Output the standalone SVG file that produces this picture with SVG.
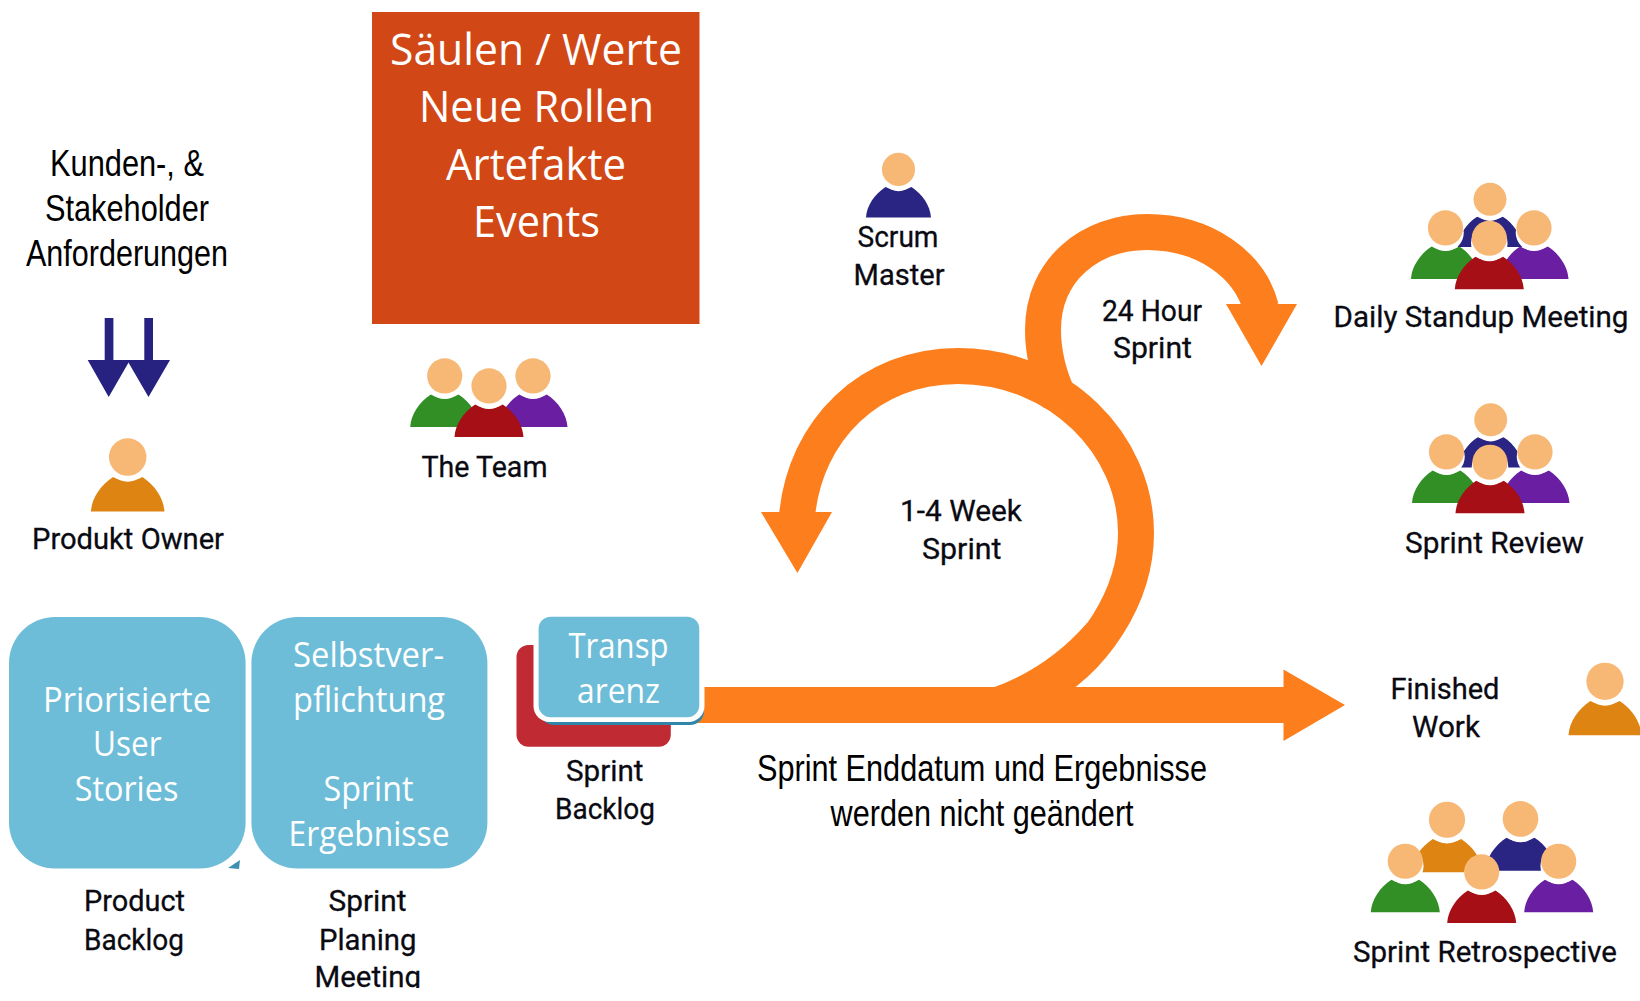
<svg xmlns="http://www.w3.org/2000/svg" width="1640" height="1001" viewBox="0 0 1640 1001">
<style>
.l{font-family:Roboto,"Liberation Sans",sans-serif;font-size:30px;fill:#0a0a12;font-weight:400;stroke:#0a0a12;stroke-width:.3px}
.w{font-family:"Open Sans","Liberation Sans",sans-serif;font-size:35px;fill:#fff}
.t{font-family:"Open Sans","Liberation Sans",sans-serif;font-size:43px;fill:#fff}
.n{font-family:"Liberation Sans Narrow","Liberation Sans",sans-serif;font-size:37px;fill:#000}
.box{fill:#6ebdd8}
.o{fill:none;stroke:#fd7e1c;stroke-width:36}
.of{fill:#fd7e1c}
.navy{fill:#27217f}
.head{fill:#f7b876}.halo{fill:#fff}
</style>
<defs>
<g id="p">
<path d="M-50,0C-49,-18-37,-36-20,-47Q0,-36 20,-47C37,-36 49,-18 50,0Z"/>
<circle class="halo" cy="-67" r="26.5"/>
<circle class="head" cy="-74" r="25.5"/>
</g>
<clipPath id="clip"><rect x="0" y="0" width="1640" height="988"/></clipPath>
</defs>
<rect width="1640" height="1001" fill="#fff"/>
<g id="connectors">
<path class="o" d="M797,516C805,430 870,366 958,366C1060,366 1136,445 1136,533C1136,595 1095,662 1034,692"/>
<path class="of" d="M1087,623Q1048,668 992,688L1040,705L1095,640Z"/>
<path class="o" d="M1060,400C1048,375 1043,350 1043,330C1043,270 1090,232 1147,232C1205,232 1250,265 1261,308"/>
<polygon class="of" points="761,512 832,512 797.4,573"/>
<polygon class="of" points="1226,304 1297,304 1261.5,366"/>
<polygon class="of" points="690,687 1283.5,687 1283.5,669.5 1345,705 1283.5,741 1283.5,723 690,723"/>
<g id="down-arrows" class="navy">
<polygon points="104.7,318 113.4,318 113.4,360 130,360 108.7,397 87.7,360 104.7,360"/>
<polygon points="144.3,318 153,318 153,360 170,360 148.5,397 127,360 144.3,360"/>
</g>
</g>
<g id="pillars"><rect x="372" y="12" width="327.5" height="312" fill="#d14816"/>
<text class="t" x="390" y="64.5" textLength="292" lengthAdjust="spacingAndGlyphs">Säulen / Werte</text>
<text class="t" x="419" y="121.5" textLength="235" lengthAdjust="spacingAndGlyphs">Neue Rollen</text>
<text class="t" x="446" y="179.5" textLength="180" lengthAdjust="spacingAndGlyphs">Artefakte</text>
<text class="t" x="473" y="236.5" textLength="127" lengthAdjust="spacingAndGlyphs">Events</text></g>
<g id="requirements">
<text class="n" x="50" y="176" textLength="154" lengthAdjust="spacingAndGlyphs">Kunden-, &amp;</text>
<text class="n" x="45" y="221" textLength="164" lengthAdjust="spacingAndGlyphs">Stakeholder</text>
<text class="n" x="26" y="266" textLength="202" lengthAdjust="spacingAndGlyphs">Anforderungen</text></g>
<g id="product-owner"><use href="#p" transform="translate(127.7,511.5) scale(.735)" fill="#dd8412"/>
<text class="l" x="32" y="549.3" textLength="192" lengthAdjust="spacingAndGlyphs">Produkt Owner</text></g>
<g id="team">
<use href="#p" transform="translate(444.7,427) scale(.69)" fill="#318f26"/>
<use href="#p" transform="translate(533,427) scale(.69)" fill="#6a1fa2"/>
<use href="#p" transform="translate(489,437) scale(.69)" fill="#a70f16"/>
<text class="l" x="421.5" y="476.7" textLength="126" lengthAdjust="spacingAndGlyphs">The Team</text></g>
<g id="scrum-master"><use href="#p" transform="translate(898.5,217.5) scale(.65)" fill="#2a2483"/>
<text class="l" x="857.5" y="246.7" textLength="81" lengthAdjust="spacingAndGlyphs">Scrum</text>
<text class="l" x="853.5" y="285" textLength="91" lengthAdjust="spacingAndGlyphs">Master</text></g>
<g id="sprint-24h"><text class="l" x="1102" y="320.5" textLength="100" lengthAdjust="spacingAndGlyphs">24 Hour</text>
<text class="l" x="1113" y="357.7" textLength="79" lengthAdjust="spacingAndGlyphs">Sprint</text></g>
<g id="sprint-week"><text class="l" x="900" y="521" textLength="122" lengthAdjust="spacingAndGlyphs">1-4 Week</text>
<text class="l" x="922" y="558.5" textLength="79.5" lengthAdjust="spacingAndGlyphs">Sprint</text></g>
<g id="daily">
<use href="#p" transform="translate(1490,247) scale(.645)" fill="#2a2483"/>
<use href="#p" transform="translate(1445.5,279) scale(.69)" fill="#318f26"/>
<use href="#p" transform="translate(1534,279) scale(.69)" fill="#6a1fa2"/>
<use href="#p" transform="translate(1489.3,289.3) scale(.69)" fill="#a70f16"/>
<text class="l" x="1333.5" y="326.7" textLength="295" lengthAdjust="spacingAndGlyphs">Daily Standup Meeting</text></g>
<g id="review">
<use href="#p" transform="translate(1490.7,467.5) scale(.645)" fill="#2a2483"/>
<use href="#p" transform="translate(1446.5,503) scale(.69)" fill="#318f26"/>
<use href="#p" transform="translate(1535,503) scale(.69)" fill="#6a1fa2"/>
<use href="#p" transform="translate(1490,513.3) scale(.69)" fill="#a70f16"/>
<text class="l" x="1405" y="552.5" textLength="179" lengthAdjust="spacingAndGlyphs">Sprint Review</text></g>
<g id="finished">
<text class="l" x="1390.5" y="699" textLength="109" lengthAdjust="spacingAndGlyphs">Finished</text>
<text class="l" x="1412" y="736.7" textLength="68" lengthAdjust="spacingAndGlyphs">Work</text>
<use href="#p" transform="translate(1605,735.3) scale(.73)" fill="#dd8412"/></g>
<g id="retro">
<use href="#p" transform="translate(1447,872.3) scale(.71)" fill="#dd8412"/>
<use href="#p" transform="translate(1520.5,870.7) scale(.7)" fill="#2a2483"/>
<use href="#p" transform="translate(1405.3,912.3) scale(.69)" fill="#318f26"/>
<use href="#p" transform="translate(1481.7,923) scale(.69)" fill="#a70f16"/>
<use href="#p" transform="translate(1558.7,912.3) scale(.69)" fill="#6a1fa2"/>
<text class="l" x="1353" y="962.3" textLength="264" lengthAdjust="spacingAndGlyphs">Sprint Retrospective</text></g>
<g id="product-backlog">
<path d="M228,868L240,860L239,869Z" fill="#3f8fb0"/>
<rect class="box" x="9" y="617" width="236.6" height="251.5" rx="46"/>
<text class="w" x="43" y="711.5" textLength="168" lengthAdjust="spacingAndGlyphs">Priorisierte</text>
<text class="w" x="93" y="755.8" textLength="68.6" lengthAdjust="spacingAndGlyphs">User</text>
<text class="w" x="74.8" y="800.5" textLength="103.5" lengthAdjust="spacingAndGlyphs">Stories</text>
<text class="l" x="84" y="910.7" textLength="101" lengthAdjust="spacingAndGlyphs">Product</text>
<text class="l" x="84" y="949.5" textLength="100" lengthAdjust="spacingAndGlyphs">Backlog</text></g>
<g id="sprint-planning">
<rect class="box" x="251.4" y="617" width="236" height="251.5" rx="46"/>
<text class="w" x="293" y="667" textLength="151" lengthAdjust="spacingAndGlyphs">Selbstver-</text>
<text class="w" x="293" y="711.5" textLength="152" lengthAdjust="spacingAndGlyphs">pflichtung</text>
<text class="w" x="323.5" y="800.5" textLength="90" lengthAdjust="spacingAndGlyphs">Sprint</text>
<text class="w" x="288.5" y="846" textLength="161" lengthAdjust="spacingAndGlyphs">Ergebnisse</text>
<text class="l" x="328.5" y="910.7" textLength="78" lengthAdjust="spacingAndGlyphs">Sprint</text>
<text class="l" x="319" y="949.5" textLength="97.5" lengthAdjust="spacingAndGlyphs">Planing</text>
<text class="l" x="314.5" y="987" textLength="106.5" lengthAdjust="spacingAndGlyphs" clip-path="url(#clip)">Meeting</text></g>
<g id="sprint-backlog">
<rect x="516.5" y="645" width="154.3" height="101.7" rx="12" fill="#c02a33"/>
<rect x="540" y="630" width="164" height="95" rx="14" fill="#2f86a8"/>
<rect x="533.5" y="612" width="171" height="110" rx="16" fill="#fff"/>
<rect class="box" x="538.6" y="616.7" width="160.7" height="100.6" rx="12"/>
<text class="w" x="568.5" y="658" textLength="100" lengthAdjust="spacingAndGlyphs">Transp</text>
<text class="w" x="577" y="702.5" textLength="83" lengthAdjust="spacingAndGlyphs">arenz</text>
<text class="l" x="566" y="780.7" textLength="77.5" lengthAdjust="spacingAndGlyphs">Sprint</text>
<text class="l" x="555" y="819.3" textLength="100" lengthAdjust="spacingAndGlyphs">Backlog</text></g>
<g id="sprint-end">
<text class="n" x="757" y="780.5" textLength="450" lengthAdjust="spacingAndGlyphs">Sprint Enddatum und Ergebnisse</text>
<text class="n" x="830.6" y="826" textLength="303" lengthAdjust="spacingAndGlyphs">werden nicht geändert</text></g>
</svg>
